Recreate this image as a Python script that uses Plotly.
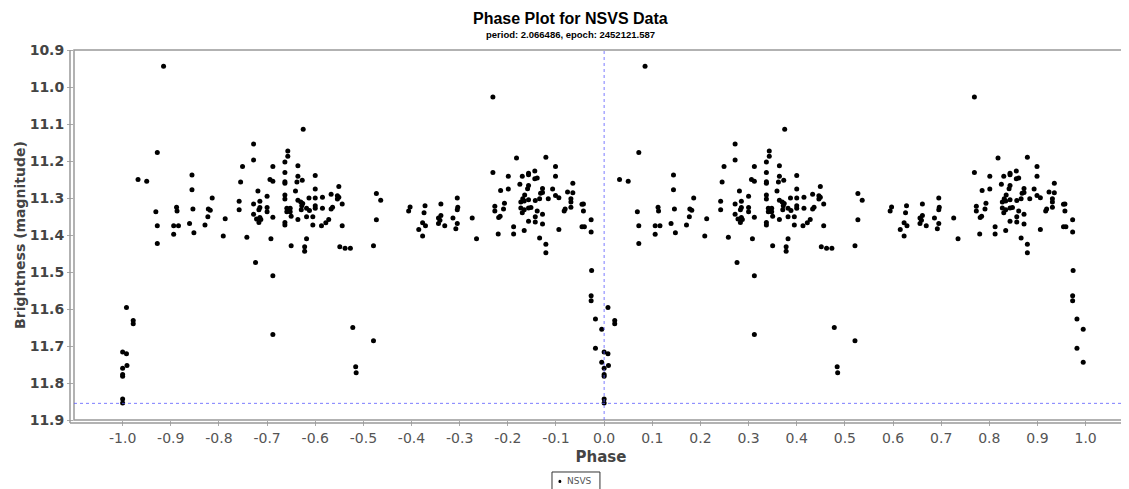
import plotly.graph_objs as go

# NSVS phased light curve, phase in [0,1) (plotted again shifted by -1)
phase = [
	0.085, 0.072, 0.032, 0.050, 0.144, 0.144, 0.186, 0.069, 0.112, 0.113,
	0.146, 0.178, 0.182, 0.072, 0.106, 0.116, 0.139, 0.177, 0.171, 0.213,
	0.106, 0.148, 0.209, 0.258, 0.308, 0.272, 0.272, 0.249, 0.312, 0.245,
	0.306, 0.312, 0.281, 0.242, 0.242, 0.272, 0.285, 0.300, 0.285, 0.283,
	0.300, 0.300, 0.272, 0.278, 0.285, 0.283, 0.287, 0.312, 0.375, 0.343,
	0.343, 0.337, 0.364, 0.337, 0.364, 0.373, 0.362, 0.400, 0.337, 0.337,
	0.400, 0.449, 0.359, 0.337, 0.337, 0.364, 0.370, 0.374, 0.372, 0.387,
	0.400, 0.415, 0.433, 0.446, 0.449, 0.446, 0.456, 0.400, 0.400, 0.415,
	0.433, 0.436, 0.341, 0.348, 0.341, 0.348, 0.382, 0.388, 0.371, 0.350,
	0.382, 0.395, 0.364, 0.428, 0.422, 0.337, 0.337, 0.395, 0.413, 0.456,
	0.382, 0.527, 0.536, 0.527, 0.597, 0.594, 0.628, 0.626, 0.661, 0.661,
	0.656, 0.659, 0.656, 0.669, 0.623, 0.629, 0.615, 0.623, 0.686, 0.769,
	0.818, 0.879, 0.769, 0.801, 0.830, 0.843, 0.843, 0.856, 0.856, 0.861,
	0.899, 0.899, 0.825, 0.843, 0.841, 0.785, 0.801, 0.935, 0.872, 0.893,
	0.924, 0.935, 0.868, 0.872, 0.835, 0.899, 0.906, 0.695, 0.793, 0.831,
	0.843, 0.827, 0.834, 0.857, 0.866, 0.884, 0.931, 0.931, 0.931, 0.773,
	0.696, 0.695, 0.791, 0.827, 0.834, 0.843, 0.773, 0.830, 0.861, 0.848,
	0.872, 0.919, 0.917, 0.954, 0.957, 0.957, 0.784, 0.781, 0.726, 0.857,
	0.857, 0.843, 0.872, 0.695, 0.692, 0.812, 0.834, 0.906, 0.954, 0.959,
	0.973, 0.973, 0.780, 0.812, 0.735, 0.866, 0.072, 0.276, 0.312, 0.312,
	0.008, 0.022, 0.022, 0.995, 0.000, 0.008, 0.995, 0.000, 0.009, 0.000,
	0.000, 0.000, 0.000, 0.350, 0.378, 0.378, 0.451, 0.462, 0.473, 0.521,
	0.478, 0.521, 0.484, 0.485, 0.879, 0.879, 0.974, 0.973, 0.973, 0.982,
	0.982,
]
magnitude = [
	10.944, 11.177, 11.250, 11.255, 11.238, 11.278, 11.300, 11.337, 11.325, 11.335,
	11.330, 11.330, 11.333, 11.375, 11.375, 11.375, 11.369, 11.351, 11.373, 11.356,
	11.398, 11.394, 11.403, 11.406, 11.410, 11.154, 11.197, 11.215, 11.215, 11.257,
	11.250, 11.255, 11.281, 11.309, 11.332, 11.316, 11.309, 11.295, 11.326, 11.332,
	11.326, 11.337, 11.344, 11.357, 11.353, 11.366, 11.358, 11.352, 11.114, 11.173,
	11.187, 11.203, 11.213, 11.231, 11.241, 11.252, 11.257, 11.239, 11.256, 11.260,
	11.276, 11.269, 11.281, 11.292, 11.303, 11.306, 11.311, 11.315, 11.321, 11.300,
	11.300, 11.298, 11.290, 11.294, 11.298, 11.303, 11.316, 11.321, 11.328, 11.328,
	11.330, 11.325, 11.328, 11.328, 11.337, 11.337, 11.328, 11.334, 11.332, 11.349,
	11.351, 11.351, 11.358, 11.358, 11.367, 11.366, 11.373, 11.373, 11.375, 11.375,
	11.410, 11.288, 11.306, 11.359, 11.324, 11.335, 11.321, 11.340, 11.316, 11.347,
	11.354, 11.360, 11.369, 11.375, 11.367, 11.375, 11.385, 11.403, 11.354, 11.027,
	11.192, 11.190, 11.231, 11.241, 11.241, 11.233, 11.237, 11.227, 11.248, 11.246,
	11.215, 11.241, 11.263, 11.266, 11.275, 11.280, 11.276, 11.260, 11.274, 11.276,
	11.284, 11.286, 11.287, 11.285, 11.292, 11.293, 11.299, 11.300, 11.314, 11.302,
	11.305, 11.311, 11.308, 11.307, 11.302, 11.302, 11.302, 11.311, 11.325, 11.322,
	11.325, 11.332, 11.330, 11.327, 11.332, 11.327, 11.335, 11.340, 11.335, 11.326,
	11.344, 11.330, 11.335, 11.317, 11.316, 11.335, 11.349, 11.353, 11.354, 11.351,
	11.365, 11.363, 11.370, 11.369, 11.383, 11.378, 11.388, 11.385, 11.378, 11.378,
	11.359, 11.392, 11.397, 11.397, 11.410, 11.408, 11.423, 11.474, 11.510, 11.669,
	11.596, 11.631, 11.640, 11.655, 11.716, 11.721, 11.744, 11.760, 11.753, 11.777,
	11.782, 11.843, 11.854, 11.429, 11.432, 11.444, 11.432, 11.436, 11.436, 11.429,
	11.650, 11.686, 11.756, 11.772, 11.425, 11.448, 11.496, 11.564, 11.578, 11.627,
	11.706,
]

x_ticks = [-1.0, -0.9, -0.8, -0.7, -0.6, -0.5, -0.4, -0.3, -0.2, -0.1, 0.0,
	0.1, 0.2, 0.3, 0.4, 0.5, 0.6, 0.7, 0.8, 0.9, 1.0]
x_labels = ['%.1f' % t for t in x_ticks]
y_ticks = [10.9, 11.0, 11.1, 11.2, 11.3, 11.4, 11.5, 11.6, 11.7, 11.8, 11.9]
y_labels = ['%.1f' % t for t in y_ticks]

# crosshair position
cross_x = 0.0
cross_y = 11.855

xs = phase + [p - 1 for p in phase]
ys = magnitude + magnitude

fig = go.Figure()
fig.add_trace(go.Scatter(x=xs, y=ys, mode='markers', name='NSVS',
	marker=dict(color='black', size=5), showlegend=False))

fig.add_shape(type='line', xref='x', yref='paper', x0=cross_x, x1=cross_x, y0=0, y1=1,
	line=dict(color='rgba(90,90,255,0.8)', width=1, dash='dot'))
fig.add_shape(type='line', xref='paper', yref='y', x0=0, x1=1, y0=cross_y, y1=cross_y,
	line=dict(color='rgba(90,90,255,0.8)', width=1, dash='dot'))
# plot frame
fig.add_shape(type='rect', xref='paper', yref='paper', x0=0, x1=1, y0=0, y1=1,
	line=dict(color='#999999', width=1.5), layer='below')
# axis lines sit a few px outside the frame
fig.add_shape(type='line', xref='paper', yref='paper', x0=-4 / 1054, x1=-4 / 1054, y0=-3 / 370, y1=1,
	line=dict(color='#999999', width=1.5))
fig.add_shape(type='line', xref='paper', yref='paper', x0=-4 / 1054, x1=1, y0=-3 / 370, y1=-3 / 370,
	line=dict(color='#999999', width=1.5))

# legend box drawn by hand (plotly's legend is wider and pushes the margins)
fig.add_shape(type='rect', xref='paper', yref='paper', x0=0.4535, x1=0.4990, y0=-0.1405, y1=-0.195,
	line=dict(color='#333333', width=1), fillcolor='white')
fig.add_shape(type='circle', xref='paper', yref='paper', x0=0.4596, x1=0.4624, y0=-0.1615, y1=-0.1705,
	line=dict(color='black', width=0), fillcolor='black')
fig.add_annotation(text='NSVS', xref='paper', yref='paper', x=0.4655, y=-0.166,
	xanchor='left', yanchor='middle', showarrow=False,
	font=dict(family='DejaVu Sans', size=9, color='#555555'))

fig.add_annotation(text='<b>Phase Plot for NSVS Data</b>', xref='paper', yref='paper',
	x=0.4706, y=1.0 + 32 / 370, xanchor='center', yanchor='middle', showarrow=False,
	font=dict(family='Liberation Sans', size=16, color='black'))
fig.add_annotation(text='<b>period: 2.066486, epoch: 2452121.587</b>', xref='paper', yref='paper',
	x=0.4706, y=1.0 + 15 / 370, xanchor='center', yanchor='middle', showarrow=False,
	font=dict(family='Liberation Sans', size=9.5, color='black'))

# the page puts the figure 8px in from the top-left corner
fig.update_layout(
	width=1121, height=481,
	margin=dict(l=66, r=1, t=42, b=69),
	paper_bgcolor='white', plot_bgcolor='white',
	showlegend=False,
	xaxis=dict(range=[-1.101, 1.088], tickvals=x_ticks, ticktext=x_labels, automargin=False,
		showgrid=False, zeroline=False, showline=False,
		ticks='outside', ticklen=5, tickcolor='#aaaaaa',
		tickfont=dict(family='DejaVu Sans', size=14, color='#555555'),
		title=dict(text='<b>Phase</b>', font=dict(family='DejaVu Sans', size=15, color='#444444'),
			standoff=6)),
	yaxis=dict(range=[11.9, 10.9], tickvals=y_ticks, ticktext=y_labels, automargin=False,
		showgrid=False, zeroline=False, showline=False,
		ticks='outside', ticklen=6, tickcolor='#aaaaaa',
		tickfont=dict(family='DejaVu Sans', size=14, color='#444444', weight='bold'),
		title=dict(text='<b>Brightness (magnitude)</b>', font=dict(family='DejaVu Sans', size=14, color='#444444'),
			standoff=0)),
)

fig.write_html('out.html')
